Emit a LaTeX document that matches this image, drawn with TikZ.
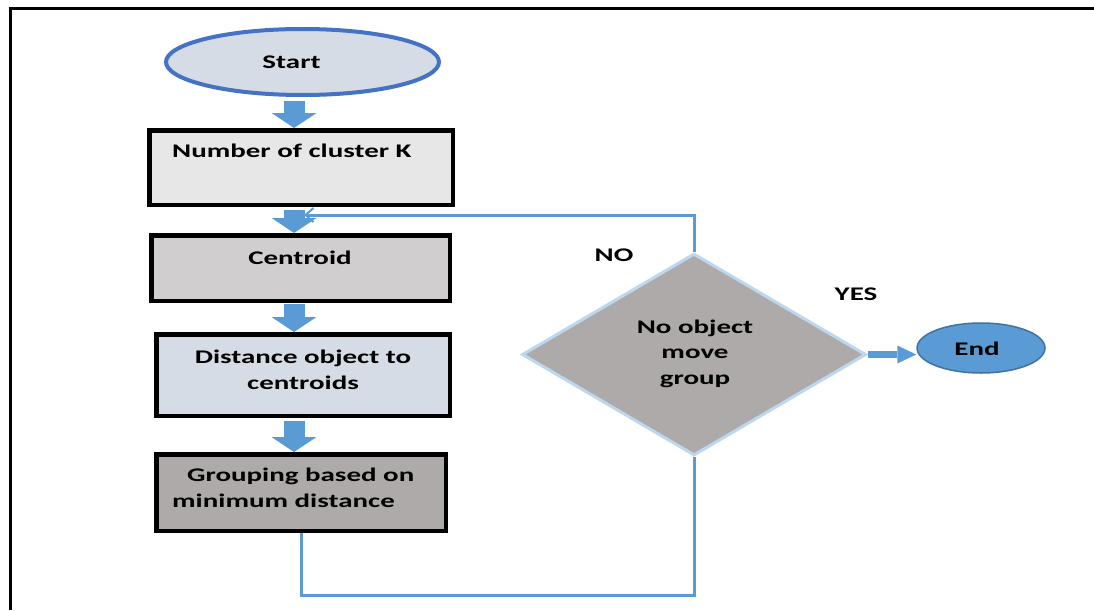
\documentclass[tikz,border=0pt]{standalone}
\usepackage{fontspec}
\newfontfamily\chartfont{Carlito}[FakeStretch=1.5]
\usetikzlibrary{shapes.geometric,arrows.meta,calc}
\definecolor{startfill}{HTML}{D6DCE5}
\definecolor{startline}{HTML}{4472C4}
\definecolor{flowblue}{HTML}{5B9BD5}
\definecolor{endline}{HTML}{41719C}
\definecolor{boxA}{HTML}{E8E7E7}
\definecolor{boxB}{HTML}{D0CECE}
\definecolor{boxC}{HTML}{D6DCE5}
\definecolor{boxD}{HTML}{AEAAAA}
\definecolor{decisionline}{HTML}{BDD7EE}
\begin{document}
\begin{tikzpicture}[x=1pt,y=-1pt,
  lbl/.style={font=\chartfont\bfseries\fontsize{19.3}{25.5}\selectfont, inner sep=0pt, text=black},
  procbox/.style={rectangle, draw=black, line width=4.5pt, inner sep=0pt},
  blockarrow/.style={draw=flowblue, line width=21pt, -{Triangle[width=45pt,length=15pt,line width=0pt]}},
  feedback/.style={draw=flowblue, line width=3pt},
]
\useasboundingbox (0,0) rectangle (1094,610);
% outer frame (top and left edges)
\draw[line width=3pt] (10.5,610) -- (10.5,8.5) -- (1094,8.5);

% terminal: start
\node[ellipse, draw=startline, fill=startfill, line width=4pt, minimum width=273pt, minimum height=66pt, inner sep=0pt] (start) at (302.5,62) {};
\node[lbl, anchor=base] (startlbl) at (291.5,68) {Start};

% process steps
\node[procbox, fill=boxA, minimum width=303.5pt, minimum height=74.5pt] (k) at (301,167.5) {};
\node[lbl, anchor=base west] (klbl) at (172,157) {Number of cluster K};

\node[procbox, fill=boxB, minimum width=298.5pt, minimum height=65.5pt] (c) at (300.5,268) {};
\node[lbl, anchor=base] (clbl) at (300,264) {Centroid};

\node[procbox, fill=boxC, minimum width=293.5pt, minimum height=81.5pt] (dist) at (303,375) {};
% multi-line labels are placed by the baseline of their last line
\node[lbl, anchor=base, align=center] (distlbl) at (303,389) {Distance object to\\centroids};

\node[procbox, fill=boxD, minimum width=289.5pt, minimum height=76.5pt] (grp) at (301,492.5) {};
\node[lbl, anchor=base west, align=left] (grplbl) at (172,507) {\hspace{15pt}Grouping based on\\minimum distance};

% decision
\node[diamond, draw=decisionline, fill=boxD, line width=3pt, minimum width=344pt, minimum height=202pt, inner sep=0pt] (d) at (694,354.5) {};
\node[lbl, anchor=base, align=center] (dlbl) at (695,384) {No object\\move\\group};

% terminal: end
\node[ellipse, draw=endline, fill=flowblue, line width=1.5pt, minimum width=128pt, minimum height=50pt, inner sep=0pt] (e) at (981,348) {};
\node[lbl, anchor=base] (elbl) at (977,355) {End};

% branch labels
\node[lbl, anchor=base] (nolbl) at (614,261) {NO};
\node[lbl, anchor=base] (yeslbl) at (856,300) {YES};

% block arrows down the main column
\coordinate (col) at (294,0);
\draw[blockarrow] ($(start.south -| col)+(0,4)$) -- (k.north -| col);
\draw[blockarrow] ($(k.south -| col)+(0,3)$) -- (c.north -| col);
\draw[blockarrow] ($(c.south -| col)+(0,1)$) -- (dist.north -| col);
\draw[blockarrow] ($(dist.south -| col)+(0,3)$) -- (grp.north -| col);

% loop back to the centroid step
\coordinate (back) at (304,215);
\draw[feedback, -{Straight Barb[length=8pt,width=14pt,line width=2pt]}] (d.north) |- (back);
\coordinate (floor) at (0,595.5);
\draw[feedback] (grp.south) -- (grp.south |- floor) -| (d.south);

% exit to end
\draw[draw=flowblue, line width=6.5pt, -{Triangle[width=18pt,length=19pt,line width=0pt]}] (d.east) -- (d.east -| e.west);
\end{tikzpicture}
\end{document}
